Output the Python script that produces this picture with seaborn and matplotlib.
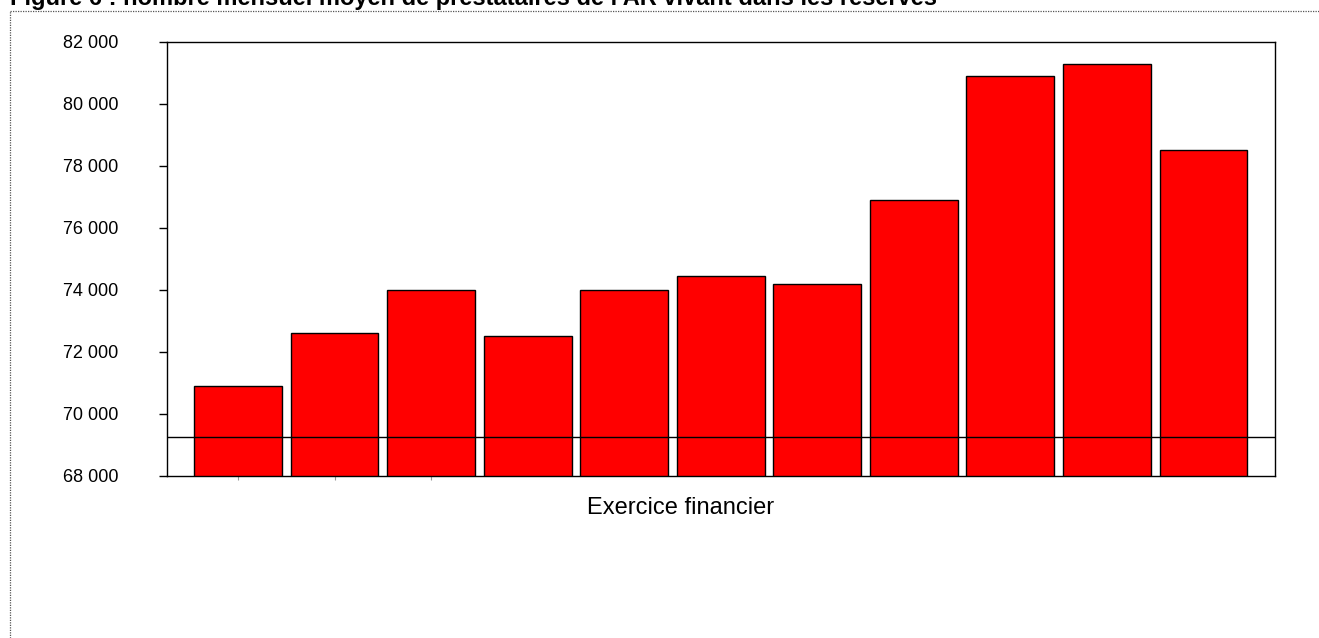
import matplotlib
matplotlib.use("Agg")
import matplotlib.pyplot as plt
from matplotlib.lines import Line2D
from matplotlib.ticker import FuncFormatter
import seaborn as sns

# Average monthly number of beneficiaries, by fiscal year
exercices = ["1", "2", "3", "4", "5", "6", "7", "8", "9", "10", "11"]
prestataires = [70900, 72600, 74000, 72500, 74000, 74450, 74200, 76900, 80900, 81300, 78500]
ligne_reference = 69250

titre = "Figure 6 : nombre mensuel moyen de prestataires de l'AR vivant dans les réserves"
titre_axe_x = "Exercice financier"
y_ticks = [68000, 70000, 72000, 74000, 76000, 78000, 80000, 82000]

sns.set_theme(style="white")
plt.rcParams["font.family"] = ["Liberation Sans", "DejaVu Sans"]
plt.rcParams["text.color"] = "black"
plt.rcParams["ytick.color"] = "black"
plt.rcParams["xtick.color"] = "black"

fig = plt.figure(figsize=(13.19, 6.38), dpi=100)
ax = fig.add_axes([167 / 1319, 1 - 476 / 638, (1275 - 167) / 1319, (476 - 42) / 638])

sns.barplot(x=exercices, y=prestataires, color="#ff0000", saturation=1,
            width=0.91, edgecolor="black", linewidth=1.0, ax=ax)

ax.axhline(ligne_reference, color="black", linewidth=1.0, zorder=5)

ax.set_ylim(68000, 82000)
ax.set_xlim(-0.735, 10.74)
ax.set_yticks(y_ticks)
ax.yaxis.set_major_formatter(FuncFormatter(lambda v, p: f"{int(v):,}".replace(",", " ")))
ax.tick_params(axis="y", which="major", direction="out", length=6, width=1,
               color="black", labelcolor="black", labelsize=13, pad=29, left=True)
ax.set_xticks([0, 1, 2])
ax.set_xticklabels(["", "", ""])
ax.tick_params(axis="x", direction="out", length=3, width=0.8, color="#999999", bottom=True)
ax.set_xlabel("")
ax.set_ylabel("")

for s in ax.spines.values():
    s.set_visible(True)
    s.set_color("black")
    s.set_linewidth(1.0)

fig.text(681 / 1319, 1 - 508 / 638, titre_axe_x, ha="center", va="center",
         fontsize=17, color="black")

# Title partly cut by the top edge of the page
fig.text(10 / 1319, 1 - 5.5 / 638, titre, ha="left", va="baseline",
         fontsize=17, fontweight="bold", color="black")

# Dotted frame around the figure
fig.add_artist(Line2D([10 / 1319, 10 / 1319], [0, 1 - 10.5 / 638], transform=fig.transFigure,
                      color="#555555", linewidth=0.9, linestyle=(0, (1, 1))))
fig.add_artist(Line2D([10 / 1319, 1], [1 - 10.5 / 638, 1 - 10.5 / 638], transform=fig.transFigure,
                      color="#555555", linewidth=0.9, linestyle=(0, (1, 1))))

fig.savefig("out.png", dpi=100)
